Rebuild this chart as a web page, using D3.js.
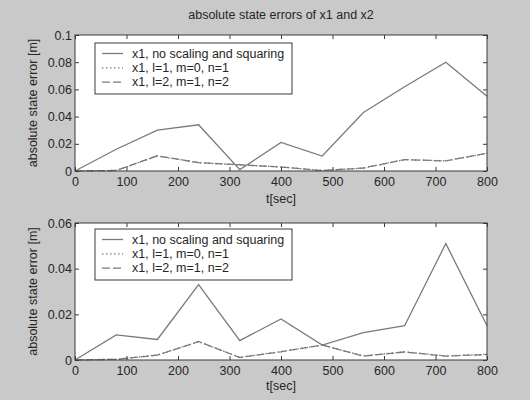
<!DOCTYPE html>
<html><head><meta charset="utf-8">
<script src="https://cdn.jsdelivr.net/npm/d3@7/dist/d3.min.js"></script>
<style>
body{margin:0;background:#c9c9c9;}
svg{display:block}
text{font-family:"Liberation Sans",Arial,Helvetica,sans-serif;fill:#262626}
</style>
</head><body><svg id="chart" width="530" height="400"></svg>
<script>
const times = [0, 80, 160, 240, 320, 400, 480, 560, 640, 720, 800];

const topNoScaling = [0, 0.016, 0.030, 0.034, 0.001, 0.021, 0.011, 0.043, 0.062, 0.080, 0.055];
const topL1M0N1    = [0, 0.0004, 0.011, 0.0062, 0.0045, 0.003, 0.0004, 0.0021, 0.0083, 0.0075, 0.013];
const topL2M1N2    = [0, 0.0004, 0.0112, 0.0061, 0.0046, 0.0029, 0.0003, 0.0022, 0.0084, 0.0074, 0.0131];

const botNoScaling = [0, 0.011, 0.009, 0.033, 0.0085, 0.018, 0.0065, 0.012, 0.015, 0.051, 0.015];
const botL1M0N1    = [0, 0.0003, 0.0022, 0.008, 0.0012, 0.0037, 0.0065, 0.0018, 0.0036, 0.0018, 0.0025];
const botL2M1N2    = [0, 0.0003, 0.0021, 0.0081, 0.0011, 0.0036, 0.0066, 0.0017, 0.0035, 0.0017, 0.0024];

const xTicks = [0, 100, 200, 300, 400, 500, 600, 700, 800];
const topYTicks = [0, 0.02, 0.04, 0.06, 0.08, 0.1];
const botYTicks = [0, 0.02, 0.04, 0.06];

const legendLabels = ["x1, no scaling and squaring", "x1, l=1, m=0, n=1", "x1, l=2, m=1, n=2"];
const titleText = "absolute state errors of x1 and x2";
const xLabel = "t[sec]";
const yLabel = "absolute state error [m]";

const svg = d3.select("#chart");
const lineColor = "#7a7a7a";
const axisColor = "#3a3a3a";
const dashes = [null, "1.5,2.5", "8,3"];
const fmt = d => d === 0 ? "0" : d3.format(".2~f")(d);

function panel(cfg) {
  const x = d3.scaleLinear().domain([0, 800]).range([75, 487]);
  const y = d3.scaleLinear().domain([0, cfg.ymax]).range([cfg.bottom, cfg.top]);
  const g = svg.append("g");
  g.append("rect").attr("x", 75).attr("y", cfg.top).attr("width", 412)
    .attr("height", cfg.bottom - cfg.top).attr("fill", "#fff");

  const series = cfg.series;
  const line = d3.line().x((d, i) => x(times[i])).y(d => y(d));
  series.forEach((s, k) => {
    g.append("path").datum(s).attr("d", line).attr("fill", "none")
      .attr("stroke", lineColor).attr("stroke-width", 1.3)
      .attr("stroke-dasharray", dashes[k]);
  });

  const ax = (axis, tr) => {
    const a = g.append("g").attr("transform", tr).call(axis);
    a.select(".domain").remove();
    a.selectAll("line").attr("stroke", axisColor);
    a.selectAll("text").attr("font-size", "12.5px").attr("fill", "#262626")
      .style("font-family", '"Liberation Sans",Arial,sans-serif');
    return a;
  };
  ax(d3.axisBottom(x).tickValues(xTicks).tickFormat(d3.format("d")).tickSizeInner(-4).tickSizeOuter(0).tickPadding(6),
     `translate(0,${cfg.bottom})`);
  ax(d3.axisTop(x).tickValues(xTicks).tickFormat("").tickSizeInner(-4).tickSizeOuter(0),
     `translate(0,${cfg.top})`);
  ax(d3.axisLeft(y).tickValues(cfg.yticks).tickFormat(fmt).tickSizeInner(-4).tickSizeOuter(0).tickPadding(3),
     `translate(75,0)`);
  ax(d3.axisRight(y).tickValues(cfg.yticks).tickFormat("").tickSizeInner(-4).tickSizeOuter(0),
     `translate(487,0)`);

  g.append("rect").attr("x", 75).attr("y", cfg.top).attr("width", 412)
    .attr("height", cfg.bottom - cfg.top).attr("fill", "none")
    .attr("stroke", axisColor).attr("stroke-width", 1);

  g.append("text").attr("x", 281).attr("y", cfg.bottom + cfg.xlabOff)
    .attr("text-anchor", "middle").attr("font-size", "12.5px").text(xLabel);
  g.append("text").attr("transform", `translate(33,${(cfg.top + cfg.bottom) / 2}) rotate(-90)`)
    .attr("text-anchor", "middle").attr("dominant-baseline", "central")
    .attr("font-size", "12.5px").text(yLabel);

  // legend
  const lx = 95, ly = cfg.legendTop, lw = 197, lh = 51;
  const lg = g.append("g");
  lg.append("rect").attr("x", lx).attr("y", ly).attr("width", lw).attr("height", lh)
    .attr("fill", "#fff").attr("stroke", axisColor).attr("stroke-width", 1);
  legendLabels.forEach((lab, k) => {
    const yy = ly + 10.5 + k * 14.3;
    lg.append("line").attr("x1", 102).attr("x2", 123).attr("y1", yy).attr("y2", yy)
      .attr("stroke", lineColor).attr("stroke-width", 1.3).attr("stroke-dasharray", dashes[k]);
    lg.append("text").attr("x", 132).attr("y", yy).attr("dominant-baseline", "central")
      .attr("font-size", "12.5px").text(lab);
  });
}

svg.append("text").attr("x", 281).attr("y", 15).attr("text-anchor", "middle")
  .attr("dominant-baseline", "central").attr("font-size", "12.5px").text(titleText);

panel({top: 35, bottom: 171, ymax: 0.1, yticks: topYTicks, legendTop: 43, xlabOff: 32,
       series: [topNoScaling, topL1M0N1, topL2M1N2]});
panel({top: 223, bottom: 360, ymax: 0.06, yticks: botYTicks, legendTop: 229, xlabOff: 30,
       series: [botNoScaling, botL1M0N1, botL2M1N2]});
</script>
</body></html>
